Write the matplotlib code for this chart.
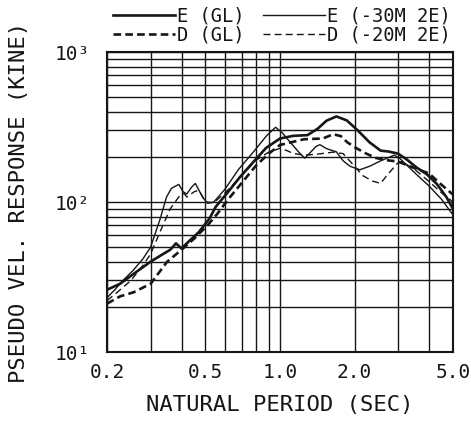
import matplotlib
matplotlib.use("Agg")
import matplotlib.pyplot as plt
from matplotlib.ticker import LogLocator, NullFormatter, FixedLocator, FixedFormatter

plt.rcParams['font.family'] = ['DejaVu Sans Mono', 'DejaVu Sans']
plt.rcParams['lines.scale_dashes'] = False

# ---- data (period in sec, pseudo velocity in kine) ----
T_e_gl = [0.20, 0.226, 0.255, 0.30, 0.337, 0.36, 0.38, 0.40, 0.43, 0.47, 0.52, 0.55,
          0.61, 0.69, 0.76, 0.88, 1.00, 1.13, 1.29, 1.42, 1.54, 1.69, 1.86, 2.04,
          2.30, 2.55, 2.75, 3.00, 3.24, 3.56, 3.92, 4.30, 4.70, 5.00]
V_e_gl = [26, 28.5, 33, 40, 45, 48, 53, 49, 55, 63, 78, 93,
          114, 147, 176, 230, 265, 276, 279, 308, 348, 372, 350, 305,
          250, 220, 217, 210, 193, 170, 153, 132, 108, 90]

T_d_gl = [0.20, 0.226, 0.256, 0.30, 0.35, 0.40, 0.45, 0.51, 0.56, 0.62, 0.69, 0.80,
          0.90, 1.00, 1.25, 1.49, 1.64, 1.76, 1.87, 2.04, 2.22, 2.43, 2.70, 3.00,
          3.50, 4.00, 4.50, 5.00]
V_d_gl = [21, 23.5, 25, 28.5, 40, 48, 57, 70, 84, 105, 130, 175,
          210, 240, 262, 265, 283, 275, 250, 228, 211, 197, 190, 186,
          168, 155, 130, 112]

T_e_30 = [0.20, 0.215, 0.232, 0.255, 0.28, 0.30, 0.327, 0.348, 0.364, 0.376, 0.39,
          0.406, 0.42, 0.44, 0.455, 0.474, 0.49, 0.51, 0.54, 0.60, 0.68, 0.78, 0.88,
          0.96, 1.02, 1.10, 1.20, 1.26, 1.33, 1.40, 1.45, 1.54, 1.69, 1.80, 1.92,
          2.10, 2.30, 2.55, 2.79, 2.90, 3.05, 3.30, 3.60, 4.00, 4.50, 5.00]
V_e_30 = [23, 26, 30, 35, 42, 50, 76, 108, 123, 127, 131,
          117, 113, 126, 133, 117, 106, 98, 100, 122, 165, 215, 275,
          315, 290, 250, 212, 196, 215, 235, 241, 227, 216, 188, 173,
          164, 173, 188, 200, 205, 195, 172, 150, 128, 104, 82]

T_d_20 = [0.20, 0.22, 0.25, 0.28, 0.30, 0.33, 0.36, 0.39, 0.41, 0.42, 0.45, 0.47,
          0.50, 0.54, 0.60, 0.70, 0.80, 0.90, 1.00, 1.06, 1.13, 1.25, 1.40, 1.64,
          1.80, 1.97, 2.16, 2.36, 2.55, 2.70, 2.98, 3.10, 3.50, 4.00, 4.50, 5.00]
V_d_20 = [22, 25, 30, 38, 45, 65, 90, 108, 114, 108, 117, 120,
          100, 99, 115, 150, 190, 215, 228, 221, 211, 205, 208, 215,
          210, 178, 150, 138, 133, 150, 181, 186, 165, 137, 115, 100]

labels = ["E (GL)", "D (GL)", "E (-30M 2E)", "D (-20M 2E)"]
x_ticks = [0.2, 0.5, 1.0, 2.0, 5.0]
x_ticklabels = ["0.2", "0.5", "1.0", "2.0", "5.0"]
y_ticks = [10, 100, 1000]
y_ticklabels = ["10¹", "10²", "10³"]

INK = '#161616'

fig = plt.figure(figsize=(4.71, 4.22), dpi=100)
ax = fig.add_axes([107/471, 1 - 352/422, 346/471, 300/422])

ax.set_xscale('log')
ax.set_yscale('log')
ax.set_xlim(0.2, 5.0)
ax.set_ylim(10, 1000)

ax.grid(True, which='both', color=INK, lw=1.0)
ax.set_axisbelow(True)

l1, = ax.plot(T_e_gl, V_e_gl, color=INK, lw=1.9, solid_joinstyle='round')
l2, = ax.plot(T_d_gl, V_d_gl, color=INK, lw=1.9, dashes=(5.5, 3))
l3, = ax.plot(T_e_30, V_e_30, color=INK, lw=1.0)
l4, = ax.plot(T_d_20, V_d_20, color=INK, lw=1.0, dashes=(5, 3))

ax.xaxis.set_major_locator(FixedLocator(x_ticks))
ax.xaxis.set_major_formatter(FixedFormatter(x_ticklabels))
ax.xaxis.set_minor_locator(LogLocator(base=10, subs=range(2, 10), numticks=20))
ax.xaxis.set_minor_formatter(NullFormatter())
ax.yaxis.set_major_locator(FixedLocator(y_ticks))
ax.yaxis.set_major_formatter(FixedFormatter(y_ticklabels))
ax.yaxis.set_minor_locator(LogLocator(base=10, subs=range(2, 10), numticks=20))
ax.yaxis.set_minor_formatter(NullFormatter())

ax.tick_params(which='both', length=0)
ax.tick_params(axis='x', labelsize=14, pad=8, colors=INK)
ax.tick_params(axis='y', labelsize=14, pad=12, colors=INK)
for s in ax.spines.values():
    s.set_color(INK)
    s.set_linewidth(1.5)

ax.set_xlabel("NATURAL PERIOD (SEC)", fontsize=16, color=INK, labelpad=9)
ax.set_ylabel("PSEUDO VEL. RESPONSE (KINE)", fontsize=16, color=INK, labelpad=19)

fig.legend([l1, l2, l3, l4], labels, ncol=2, loc='upper left',
           bbox_to_anchor=(102/471, 1.012), frameon=False, fontsize=13.5,
           handlelength=3.3, handletextpad=0.1, columnspacing=1.0,
           labelspacing=0.0, borderaxespad=0.2, labelcolor=INK)

fig.savefig("out.png", dpi=100, facecolor='white')
